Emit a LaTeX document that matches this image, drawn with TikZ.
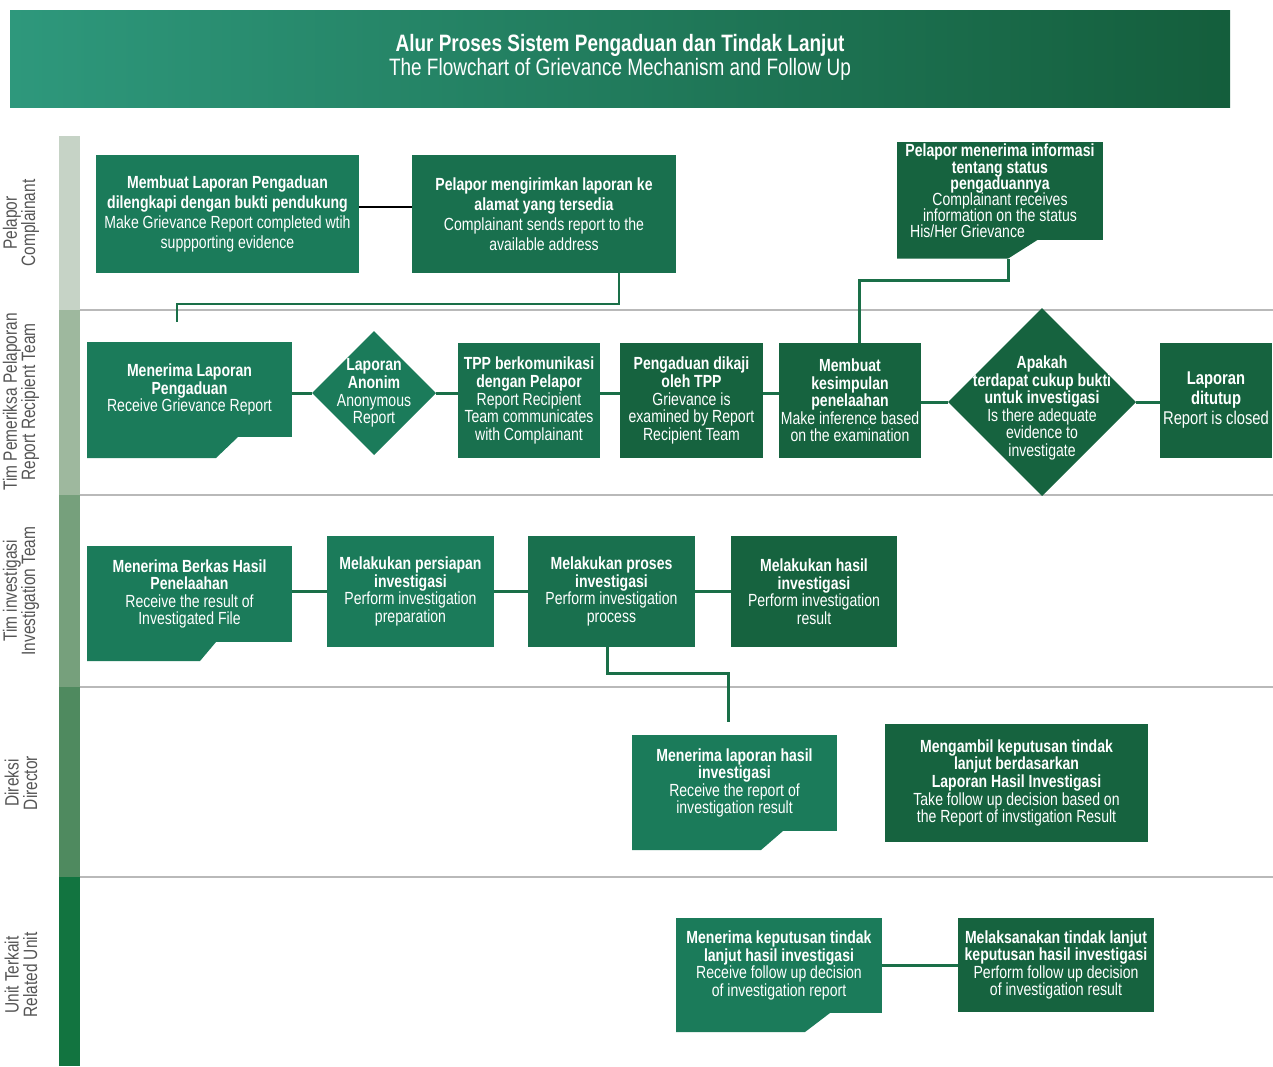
\documentclass[tikz,border=0pt]{standalone}
\usepackage{fontspec}
\setmainfont{Liberation Sans}[FakeStretch=0.8]
\usetikzlibrary{shapes.geometric}

\definecolor{bandL}{RGB}{46,152,124}
\definecolor{bandM}{RGB}{28,124,88}
\definecolor{bandR}{RGB}{20,94,60}
\definecolor{boxA}{RGB}{27,123,90}
\definecolor{boxB}{RGB}{25,112,78}
\definecolor{boxC}{RGB}{22,99,63}
\definecolor{linkgreen}{RGB}{26,111,72}
\definecolor{laneA}{RGB}{198,211,198}
\definecolor{laneB}{RGB}{158,184,158}
\definecolor{laneC}{RGB}{118,160,124}
\definecolor{laneD}{RGB}{79,138,95}
\definecolor{laneE}{RGB}{18,116,64}
\definecolor{lanetext}{RGB}{85,85,85}
\definecolor{sepgrey}{RGB}{185,185,185}

\tikzset{
  box/.style={rectangle, fill=boxA, text=white, align=center, inner sep=1pt, outer sep=0pt,
    font=\fontsize{10}{10}\selectfont},
  dia/.style={diamond, fill=boxA, inner sep=0pt, outer sep=0pt},
  diatext/.style={text=white, align=center, font=\fontsize{10}{10}\selectfont},
  lane/.style={rotate=90, align=center, text=lanetext, font=\fontsize{11}{10.5}\selectfont},
  link/.style={draw=linkgreen, line width=1.7pt},
}

\begin{document}
\begin{tikzpicture}[x=0.02cm, y=-0.02cm]
	\useasboundingbox (0,0) rectangle (1273,1066);
	% title band
	\shade[left color=bandL, middle color=bandM, right color=bandR] (10,10) rectangle (1230,107);
	\node[text=white, align=center, font=\fontsize{13.5}{13.8}\selectfont] (title) at (620,57)
		{\bfseries Alur Proses Sistem Pengaduan dan Tindak Lanjut\\The Flowchart of Grievance Mechanism and Follow Up};
	% swimlanes
	\fill[laneA] (59,136) rectangle (80,310);
	\fill[laneB] (59,310) rectangle (80,495);
	\fill[laneC] (59,495) rectangle (80,687);
	\fill[laneD] (59,687) rectangle (80,877);
	\fill[laneE] (59,877) rectangle (80,1066);
	\foreach \y in {310,495,687,877}
		\draw[sepgrey, line width=1pt] (80,\y) -- (1273,\y);
	\node[lane] (lane1) at (21,223) {Pelapor\\Complainant};
	\node[lane] (lane2) at (21,402) {Tim Pemeriksa Pelaporan\\Report Recipient Team};
	\node[lane] (lane3) at (21,591) {Tim investigasi\\Investigation Team};
	\node[lane] (lane4) at (21,783) {Direksi\\Director};
	\node[lane] (lane5) at (21,975) {Unit Terkait\\Related Unit};

	% Pelapor
	\node[box, minimum width=5.26cm, minimum height=2.36cm, font=\fontsize{10}{11.4}\selectfont] (make) at (227.5,214)
		{\bfseries Membuat Laporan Pengaduan\\\bfseries dilengkapi dengan bukti pendukung\\Make Grievance Report completed wtih\\suppporting evidence};
	\node[box, fill=boxB, minimum width=5.28cm, minimum height=2.36cm, font=\fontsize{10}{11.4}\selectfont] (send) at (544,214)
		{\bfseries Pelapor mengirimkan laporan ke\\\bfseries alamat yang tersedia\\Complainant sends report to the\\available address};
	\node[box, fill=boxC, minimum width=4.12cm, minimum height=1.88cm,
		font=\fontsize{10}{9.2}\selectfont\lineskiplimit-10pt\relax] (inform) at (1000,191)
		{\bfseries Pelapor menerima informasi\\\bfseries tentang status\\\bfseries pengaduannya\\Complainant receives\\information on the status\\His/Her Grievance\hspace*{1.3cm}};
	\fill[boxC] (inform.south west) -- ++(0,19) -- ++(111,0) coordinate (informfoot) -- ([xshift=2.82cm]inform.south west) -- cycle;

	% Tim Pemeriksa Pelaporan
	\node[box, minimum width=4.1cm, minimum height=1.9cm] (recv) at (189.5,389.5)
		{\bfseries Menerima Laporan\\\bfseries Pengaduan\\Receive Grievance Report};
	\fill[boxA] (recv.south west) -- ++(0,21) -- ++(129,0) -- ([xshift=3.02cm]recv.south west) -- cycle;
	\node[dia, minimum width=2.48cm, minimum height=2.48cm,
		label={[diatext]center:{\bfseries Laporan\\\bfseries Anonim\\Anonymous\\Report}}] (anon) at (374,393) {};
	\node[box, fill=boxB, minimum width=2.84cm, minimum height=2.3cm] (comm) at (529,400.5)
		{\bfseries TPP berkomunikasi\\\bfseries dengan Pelapor\\Report Recipient\\Team communicates\\with Complainant};
	\node[box, fill=boxC, minimum width=2.86cm, minimum height=2.3cm] (exam) at (691.5,400.5)
		{\bfseries Pengaduan dikaji\\\bfseries oleh TPP\\Grievance is\\examined by Report\\Recipient Team};
	\node[box, fill=boxC, minimum width=2.84cm, minimum height=2.3cm] (infer) at (850,400.5)
		{\bfseries Membuat\\\bfseries kesimpulan\\\bfseries penelaahan\\Make inference based\\on the examination};
	\node[dia, fill=boxC, minimum width=3.76cm, minimum height=3.76cm,
		label={[diatext, yshift=-0.12cm]center:{\bfseries Apakah\\\bfseries terdapat cukup bukti\\\bfseries untuk investigasi\\Is there adequate\\evidence to\\investigate}}] (enough) at (1042,402) {};
	\node[box, fill=boxC, minimum width=2.24cm, minimum height=2.3cm, font=\fontsize{10.5}{11.4}\selectfont] (closed) at (1216,400.5)
		{\bfseries Laporan\\\bfseries ditutup\\Report is closed};

	% Tim investigasi
	\node[box, minimum width=4.1cm, minimum height=1.92cm] (file) at (189.5,594)
		{\bfseries Menerima Berkas Hasil\\\bfseries Penelaahan\\Receive the result of\\Investigated File};
	\fill[boxA] (file.south west) -- ++(0,19) -- ++(113,0) -- ([xshift=2.58cm]file.south west) -- cycle;
	\node[box, minimum width=3.34cm, minimum height=2.22cm] (prep) at (410.5,591.5)
		{\bfseries Melakukan persiapan\\\bfseries investigasi\\Perform investigation\\preparation};
	\node[box, fill=boxB, minimum width=3.34cm, minimum height=2.22cm] (proc) at (611.5,591.5)
		{\bfseries Melakukan proses\\\bfseries investigasi\\Perform investigation\\process};
	\node[box, fill=boxC, minimum width=3.32cm, minimum height=2.22cm] (result) at (814,591.5)
		{\bfseries Melakukan hasil\\\bfseries investigasi\\Perform investigation\\result};

	% Direksi
	\node[box, minimum width=4.1cm, minimum height=1.92cm] (dirrecv) at (734.5,783)
		{\bfseries Menerima laporan hasil\\\bfseries investigasi\\Receive the report of\\investigation result};
	\fill[boxA] (dirrecv.south west) -- ++(0,19) -- ++(129,0) -- ([xshift=3.02cm]dirrecv.south west) -- cycle;
	\node[box, fill=boxC, minimum width=5.26cm, minimum height=2.36cm] (decide) at (1016.5,783)
		{\bfseries Mengambil keputusan tindak\\\bfseries lanjut berdasarkan\\\bfseries Laporan Hasil Investigasi\\Take follow up decision based on\\the Report of invstigation Result};

	% Unit Terkait
	\node[box, minimum width=4.12cm, minimum height=1.9cm] (unitrecv) at (779,965.5)
		{\bfseries Menerima keputusan tindak\\\bfseries lanjut hasil investigasi\\Receive follow up decision\\of investigation report};
	\fill[boxA] (unitrecv.south west) -- ++(0,19) -- ++(129,0) -- ([xshift=3.08cm]unitrecv.south west) -- cycle;
	\node[box, fill=boxC, minimum width=3.92cm, minimum height=1.88cm] (execute) at (1056,965)
		{\bfseries Melaksanakan tindak lanjut\\\bfseries keputusan hasil investigasi\\Perform follow up decision\\of investigation result};

	% connectors
	\coordinate (recvin) at (177,322);
	\coordinate (dirin) at (728,722);
	\draw[black, line width=0.8pt] ([yshift=0.14cm]make.east) -- ([yshift=0.14cm]send.west);
	\draw[link] ([xshift=1.5cm]send.south) -- ++(0,31) -| (recvin);
	\draw[link] (recv.east |- anon.west) -- (anon.west);
	\draw[link] (anon.east) -- (anon.east -| comm.west);
	\draw[link] (comm.east |- anon.east) -- (exam.west |- anon.east);
	\draw[link] (exam.east |- anon.east) -- (infer.west |- anon.east);
	\draw[link] (infer.east |- enough.west) -- (enough.west);
	\draw[link] (enough.east) -- (enough.east -| closed.west);
	\draw[link] ([xshift=0.18cm]infer.north) -- ++(0,-63) -| (informfoot);
	\draw[link] (file.east |- prep.west) -- (prep.west);
	\draw[link] (prep) -- (proc);
	\draw[link] (proc) -- (result);
	\draw[link] ([xshift=-0.09cm]proc.south) -- ++(0,26) -| (dirin);
	\draw[link] (unitrecv.east) -- (unitrecv.east -| execute.west);
\end{tikzpicture}
\end{document}
